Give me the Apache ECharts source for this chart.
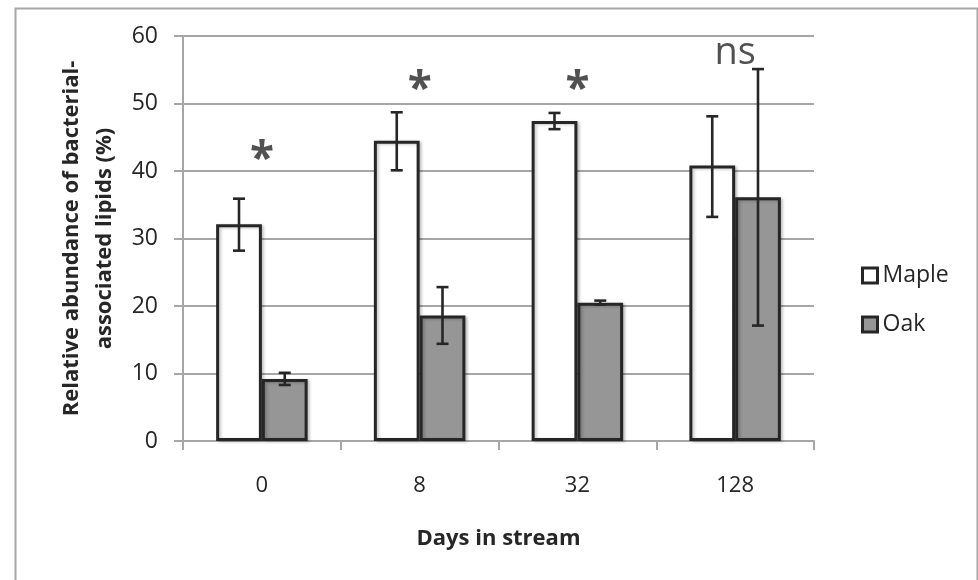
<!DOCTYPE html>
<html>
<head>
<meta charset="utf-8">
<script src="https://cdn.jsdelivr.net/npm/echarts@6/dist/echarts.min.js"></script>
<style>html,body{margin:0;padding:0;background:#fff;}#c{width:978px;height:580px;}</style>
</head>
<body>
<div id="c"></div>
<script>
const categories = ['0', '8', '32', '128'];
const mapleValues = [32.1, 44.5, 47.4, 40.8];
const oakValues = [9.2, 18.6, 20.5, 36.1];
const mapleLow = [28.2, 40.1, 46.2, 33.2];
const mapleHigh = [35.9, 48.7, 48.6, 48.1];
const oakLow = [8.3, 14.4, 20.2, 17.1];
const oakHigh = [10.1, 22.8, 20.8, 55.1];
const sigLabels = ['*', '*', '*', 'ns'];
const sigY = [41.5, 52, 52, 57.5];
const yTicks = [0, 10, 20, 30, 40, 50, 60];

const BAR_PCT = 0.29;
const dark = '#262626';
const gridGray = '#a6a6a6';
const FONT = 'Open Sans';

function errorSeries(name, low, high, sign) {
  return {
    type: 'custom',
    name: name + ' error',
    z: 5,
    silent: true,
    data: categories.map((c, i) => [i, low[i], high[i]]),
    renderItem: function (params, api) {
      const i = api.value(0);
      const band = api.size([1, 0])[0];
      const off = sign * band * BAR_PCT / 2;
      const top = api.coord([i, api.value(2)]);
      const bot = api.coord([i, api.value(1)]);
      const x = top[0] + off;
      const cap = 6;
      const style = { stroke: dark, lineWidth: 2.6, fill: null };
      return {
        type: 'group',
        children: [
          { type: 'line', shape: { x1: x, y1: top[1], x2: x, y2: bot[1] }, style: style },
          { type: 'line', shape: { x1: x - cap, y1: top[1], x2: x + cap, y2: top[1] }, style: style },
          { type: 'line', shape: { x1: x - cap, y1: bot[1], x2: x + cap, y2: bot[1] }, style: style }
        ]
      };
    }
  };
}

const chart = echarts.init(document.getElementById('c'), null, { renderer: 'canvas' });
const barShadow = { shadowBlur: 3, shadowOffsetX: 2, shadowOffsetY: 1, shadowColor: 'rgba(0,0,0,0.22)' };

chart.setOption({
  backgroundColor: '#fff',
  animation: false,
  graphic: [{
    type: 'rect', left: 13, top: 6,
    shape: { width: 962, height: 600 },
    style: { fill: null, stroke: gridGray, lineWidth: 2 }, silent: true
  }],
  grid: { left: 183, right: 164, top: 36, bottom: 139 },
  legend: {
    orient: 'vertical', left: 856, top: 259, itemGap: 26,
    itemWidth: 15, itemHeight: 15, icon: 'rect',
    itemStyle: { borderWidth: 3, borderColor: dark },
    textStyle: { fontFamily: FONT, fontSize: 23, color: '#262626' },
    data: ['Maple', 'Oak']
  },
  xAxis: {
    type: 'category', data: categories,
    axisLine: { lineStyle: { color: gridGray, width: 2 } },
    axisTick: { show: true, length: 9, lineStyle: { color: gridGray, width: 2 } },
    axisLabel: { fontFamily: FONT, fontSize: 22, color: '#262626', margin: 34 },
    name: 'Days in stream', nameLocation: 'middle', nameGap: 87,
    nameTextStyle: { fontFamily: FONT, fontSize: 22, fontWeight: 'bold', color: '#262626' }
  },
  yAxis: {
    type: 'value', min: 0, max: 60, interval: 10,
    axisLine: { show: true, lineStyle: { color: gridGray, width: 2 } },
    axisTick: { show: true, length: 9, lineStyle: { color: gridGray, width: 2 } },
    splitLine: { lineStyle: { color: gridGray, width: 2 } },
    axisLabel: { fontFamily: FONT, fontSize: 23, color: '#262626', margin: 25,
      formatter: v => (yTicks.indexOf(v) >= 0 ? String(v) : '') },
    name: 'Relative abundance of bacterial-\nassociated lipids (%)',
    nameLocation: 'middle', nameGap: 62,
    nameTextStyle: { fontFamily: FONT, fontSize: 22, fontWeight: 'bold', color: '#262626', lineHeight: 33 }
  },
  series: [
    {
      name: 'Maple', type: 'bar', data: mapleValues,
      barWidth: (BAR_PCT * 100) + '%', barGap: '0%',
      itemStyle: Object.assign({ color: '#ffffff', borderColor: dark, borderWidth: 3 }, barShadow)
    },
    {
      name: 'Oak', type: 'bar', data: oakValues,
      barWidth: (BAR_PCT * 100) + '%', barGap: '0%',
      itemStyle: Object.assign({ color: '#969696', borderColor: dark, borderWidth: 3 }, barShadow)
    },
    errorSeries('Maple', mapleLow, mapleHigh, -1),
    errorSeries('Oak', oakLow, oakHigh, 1),
    {
      type: 'scatter', name: 'sig', symbolSize: 0, z: 6, silent: true,
      data: categories.map((c, i) => [i, sigY[i]]),
      label: {
        show: true, position: 'inside', color: '#262626',
        fontFamily: FONT, fontSize: 38,
        formatter: p => (sigLabels[p.dataIndex] === '*' ? '{b|*}' : '{n|' + sigLabels[p.dataIndex] + '}'),
        rich: {
          b: { fontFamily: FONT, fontSize: 44, fontWeight: 'bold', color: '#262626' },
          n: { fontFamily: FONT, fontSize: 38, color: '#262626' }
        }
      }
    }
  ]
});
</script>
</body>
</html>
